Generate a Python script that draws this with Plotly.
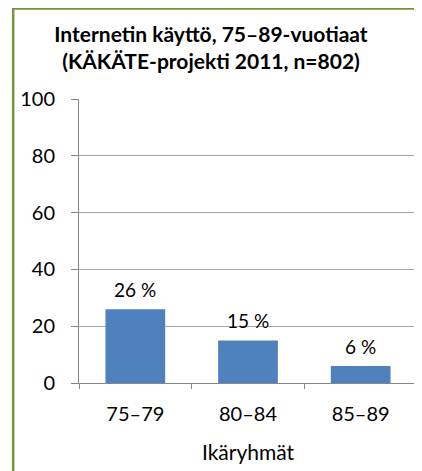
import plotly.graph_objects as go

categories = ["75–79", "80–84", "85–89"]
values = [26, 15, 6]
y_ticks = [0, 20, 40, 60, 80, 100]

W, H = 422, 471
OFF = 8  # default body margin of the page
L, R, T, B = 73, 5, 99, 88   # desired plot-area position in the screenshot
pw, ph = W - L - R, H - T - B

def px2paper_x(px):
    return (px - L) / pw

def px2paper_y(py):
    return (H - B - py) / ph

font = "Lato, 'Open Sans', sans-serif"
black = "#000000"

fig = go.Figure()
fig.add_trace(go.Bar(
    x=categories, y=values,
    marker=dict(color="#4F81BD", line=dict(width=0)),
    width=0.53,
))

for c, v in zip(categories, values):
    fig.add_annotation(
        x=c, y=v, text=f"{v} %", showarrow=False,
        xanchor="center", yanchor="bottom", yshift=6,
        font=dict(size=19, color=black, family=font),
    )

fig.update_layout(
    width=W, height=H,
    margin=dict(l=L - OFF, r=R + OFF, t=T - OFF, b=B + OFF),
    paper_bgcolor="white", plot_bgcolor="white",
    showlegend=False,
    title=dict(
        text="<b>Internetin käyttö, 75–89-vuotiaat<br>(KÄKÄTE-projekti 2011, n=802)</b>",
        x=(211 - OFF) / W, xref="container", xanchor="center",
        y=1 - (42 - OFF) / H, yref="container", yanchor="top",
        font=dict(size=21, color=black, family=font),
    ),
    xaxis=dict(
        type="category",
        showline=True, linecolor="#868686", linewidth=1,
        ticks="outside", ticklen=5, tickcolor="#868686",
        tickson="boundaries",
        ticklabelstandoff=13,
        tickfont=dict(size=20, color=black, family=font),
        title=dict(text="Ikäryhmät", font=dict(size=21, color=black, family=font), standoff=21),
        showgrid=False,
    ),
    yaxis=dict(
        range=[0, 100], tickvals=y_ticks,
        showline=True, linecolor="#868686", linewidth=1,
        ticks="outside", ticklen=7, tickcolor="#868686",
        ticklabelstandoff=12,
        showgrid=True, gridcolor="#A6A6A6", gridwidth=1,
        tickfont=dict(size=20, color=black, family=font),
        zeroline=False,
    ),
    font=dict(family=font),
    shapes=[dict(
        type="rect", xref="paper", yref="paper",
        x0=px2paper_x(6), x1=px2paper_x(440),
        y0=px2paper_y(490), y1=px2paper_y(8.5),
        line=dict(color="#77933C", width=2.5),
        fillcolor="rgba(0,0,0,0)",
        layer="above",
    )],
)

fig.write_html("out.html")
